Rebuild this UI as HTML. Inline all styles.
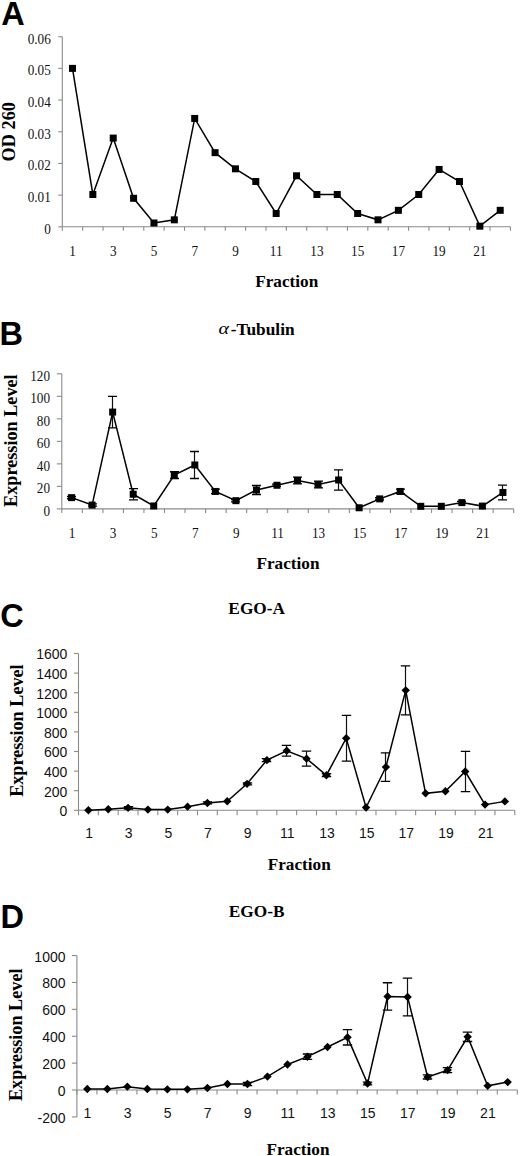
<!DOCTYPE html>
<html><head><meta charset="utf-8"><style>
html,body{margin:0;padding:0;background:#fff;overflow:hidden;}
svg{display:block;}
</style></head><body>
<svg width="520" height="1156" viewBox="0 0 520 1156">
<rect width="520" height="1156" fill="#fff"/>
<line x1="62.30" y1="36.70" x2="62.30" y2="226.80" stroke="#8a8a8a" stroke-width="1.1"/>
<line x1="58.30" y1="226.80" x2="62.30" y2="226.80" stroke="#8a8a8a" stroke-width="1.1"/>
<text transform="translate(50.80,233.80) scale(1,1.1)" text-anchor="end" font-family='"Liberation Serif", serif' font-size="13.2" fill="#111">0</text>
<line x1="58.30" y1="195.12" x2="62.30" y2="195.12" stroke="#8a8a8a" stroke-width="1.1"/>
<text transform="translate(50.80,202.12) scale(1,1.1)" text-anchor="end" font-family='"Liberation Serif", serif' font-size="13.2" fill="#111">0.01</text>
<line x1="58.30" y1="163.43" x2="62.30" y2="163.43" stroke="#8a8a8a" stroke-width="1.1"/>
<text transform="translate(50.80,170.43) scale(1,1.1)" text-anchor="end" font-family='"Liberation Serif", serif' font-size="13.2" fill="#111">0.02</text>
<line x1="58.30" y1="131.75" x2="62.30" y2="131.75" stroke="#8a8a8a" stroke-width="1.1"/>
<text transform="translate(50.80,138.75) scale(1,1.1)" text-anchor="end" font-family='"Liberation Serif", serif' font-size="13.2" fill="#111">0.03</text>
<line x1="58.30" y1="100.07" x2="62.30" y2="100.07" stroke="#8a8a8a" stroke-width="1.1"/>
<text transform="translate(50.80,107.07) scale(1,1.1)" text-anchor="end" font-family='"Liberation Serif", serif' font-size="13.2" fill="#111">0.04</text>
<line x1="58.30" y1="68.38" x2="62.30" y2="68.38" stroke="#8a8a8a" stroke-width="1.1"/>
<text transform="translate(50.80,75.38) scale(1,1.1)" text-anchor="end" font-family='"Liberation Serif", serif' font-size="13.2" fill="#111">0.05</text>
<line x1="58.30" y1="36.70" x2="62.30" y2="36.70" stroke="#8a8a8a" stroke-width="1.1"/>
<text transform="translate(50.80,43.70) scale(1,1.1)" text-anchor="end" font-family='"Liberation Serif", serif' font-size="13.2" fill="#111">0.06</text>
<line x1="62.30" y1="226.80" x2="510.40" y2="226.80" stroke="#8a8a8a" stroke-width="1.1"/>
<line x1="62.30" y1="226.80" x2="62.30" y2="230.80" stroke="#8a8a8a" stroke-width="1.1"/>
<line x1="82.67" y1="226.80" x2="82.67" y2="230.80" stroke="#8a8a8a" stroke-width="1.1"/>
<line x1="103.04" y1="226.80" x2="103.04" y2="230.80" stroke="#8a8a8a" stroke-width="1.1"/>
<line x1="123.40" y1="226.80" x2="123.40" y2="230.80" stroke="#8a8a8a" stroke-width="1.1"/>
<line x1="143.77" y1="226.80" x2="143.77" y2="230.80" stroke="#8a8a8a" stroke-width="1.1"/>
<line x1="164.14" y1="226.80" x2="164.14" y2="230.80" stroke="#8a8a8a" stroke-width="1.1"/>
<line x1="184.51" y1="226.80" x2="184.51" y2="230.80" stroke="#8a8a8a" stroke-width="1.1"/>
<line x1="204.88" y1="226.80" x2="204.88" y2="230.80" stroke="#8a8a8a" stroke-width="1.1"/>
<line x1="225.25" y1="226.80" x2="225.25" y2="230.80" stroke="#8a8a8a" stroke-width="1.1"/>
<line x1="245.61" y1="226.80" x2="245.61" y2="230.80" stroke="#8a8a8a" stroke-width="1.1"/>
<line x1="265.98" y1="226.80" x2="265.98" y2="230.80" stroke="#8a8a8a" stroke-width="1.1"/>
<line x1="286.35" y1="226.80" x2="286.35" y2="230.80" stroke="#8a8a8a" stroke-width="1.1"/>
<line x1="306.72" y1="226.80" x2="306.72" y2="230.80" stroke="#8a8a8a" stroke-width="1.1"/>
<line x1="327.09" y1="226.80" x2="327.09" y2="230.80" stroke="#8a8a8a" stroke-width="1.1"/>
<line x1="347.45" y1="226.80" x2="347.45" y2="230.80" stroke="#8a8a8a" stroke-width="1.1"/>
<line x1="367.82" y1="226.80" x2="367.82" y2="230.80" stroke="#8a8a8a" stroke-width="1.1"/>
<line x1="388.19" y1="226.80" x2="388.19" y2="230.80" stroke="#8a8a8a" stroke-width="1.1"/>
<line x1="408.56" y1="226.80" x2="408.56" y2="230.80" stroke="#8a8a8a" stroke-width="1.1"/>
<line x1="428.93" y1="226.80" x2="428.93" y2="230.80" stroke="#8a8a8a" stroke-width="1.1"/>
<line x1="449.30" y1="226.80" x2="449.30" y2="230.80" stroke="#8a8a8a" stroke-width="1.1"/>
<line x1="469.66" y1="226.80" x2="469.66" y2="230.80" stroke="#8a8a8a" stroke-width="1.1"/>
<line x1="490.03" y1="226.80" x2="490.03" y2="230.80" stroke="#8a8a8a" stroke-width="1.1"/>
<line x1="510.40" y1="226.80" x2="510.40" y2="230.80" stroke="#8a8a8a" stroke-width="1.1"/>
<text transform="translate(72.48,255.50) scale(1,1.1)" text-anchor="middle" font-family='"Liberation Serif", serif' font-size="13.2" fill="#111">1</text>
<text transform="translate(113.22,255.50) scale(1,1.1)" text-anchor="middle" font-family='"Liberation Serif", serif' font-size="13.2" fill="#111">3</text>
<text transform="translate(153.96,255.50) scale(1,1.1)" text-anchor="middle" font-family='"Liberation Serif", serif' font-size="13.2" fill="#111">5</text>
<text transform="translate(194.69,255.50) scale(1,1.1)" text-anchor="middle" font-family='"Liberation Serif", serif' font-size="13.2" fill="#111">7</text>
<text transform="translate(235.43,255.50) scale(1,1.1)" text-anchor="middle" font-family='"Liberation Serif", serif' font-size="13.2" fill="#111">9</text>
<text transform="translate(276.17,255.50) scale(1,1.1)" text-anchor="middle" font-family='"Liberation Serif", serif' font-size="13.2" fill="#111">11</text>
<text transform="translate(316.90,255.50) scale(1,1.1)" text-anchor="middle" font-family='"Liberation Serif", serif' font-size="13.2" fill="#111">13</text>
<text transform="translate(357.64,255.50) scale(1,1.1)" text-anchor="middle" font-family='"Liberation Serif", serif' font-size="13.2" fill="#111">15</text>
<text transform="translate(398.38,255.50) scale(1,1.1)" text-anchor="middle" font-family='"Liberation Serif", serif' font-size="13.2" fill="#111">17</text>
<text transform="translate(439.11,255.50) scale(1,1.1)" text-anchor="middle" font-family='"Liberation Serif", serif' font-size="13.2" fill="#111">19</text>
<text transform="translate(479.85,255.50) scale(1,1.1)" text-anchor="middle" font-family='"Liberation Serif", serif' font-size="13.2" fill="#111">21</text>
<polyline points="72.48,68.38 92.85,194.48 113.22,138.09 133.59,198.28 153.96,223.00 174.32,219.83 194.69,118.44 215.06,152.66 235.43,168.82 255.80,181.49 276.17,213.49 296.53,175.79 316.90,194.48 337.27,194.48 357.64,213.49 378.01,219.83 398.38,210.32 418.74,194.48 439.11,169.45 459.48,181.49 479.85,226.17 500.22,210.32" fill="none" stroke="#000" stroke-width="1.5" stroke-linejoin="miter"/>
<rect x="68.98" y="64.88" width="7" height="7" fill="#000"/>
<rect x="89.35" y="190.98" width="7" height="7" fill="#000"/>
<rect x="109.72" y="134.59" width="7" height="7" fill="#000"/>
<rect x="130.09" y="194.78" width="7" height="7" fill="#000"/>
<rect x="150.46" y="219.50" width="7" height="7" fill="#000"/>
<rect x="170.82" y="216.33" width="7" height="7" fill="#000"/>
<rect x="191.19" y="114.94" width="7" height="7" fill="#000"/>
<rect x="211.56" y="149.16" width="7" height="7" fill="#000"/>
<rect x="231.93" y="165.32" width="7" height="7" fill="#000"/>
<rect x="252.30" y="177.99" width="7" height="7" fill="#000"/>
<rect x="272.67" y="209.99" width="7" height="7" fill="#000"/>
<rect x="293.03" y="172.29" width="7" height="7" fill="#000"/>
<rect x="313.40" y="190.98" width="7" height="7" fill="#000"/>
<rect x="333.77" y="190.98" width="7" height="7" fill="#000"/>
<rect x="354.14" y="209.99" width="7" height="7" fill="#000"/>
<rect x="374.51" y="216.33" width="7" height="7" fill="#000"/>
<rect x="394.88" y="206.82" width="7" height="7" fill="#000"/>
<rect x="415.24" y="190.98" width="7" height="7" fill="#000"/>
<rect x="435.61" y="165.95" width="7" height="7" fill="#000"/>
<rect x="455.98" y="177.99" width="7" height="7" fill="#000"/>
<rect x="476.35" y="222.67" width="7" height="7" fill="#000"/>
<rect x="496.72" y="206.82" width="7" height="7" fill="#000"/>
<text transform="translate(14.90,131.75) rotate(-90)" text-anchor="middle" font-family='"Liberation Serif", serif' font-weight="bold" font-size="18.3" fill="#000">OD 260</text>
<text x="286.70" y="287.00" text-anchor="middle" font-family='"Liberation Serif", serif' font-weight="bold" font-size="17.2" fill="#000">Fraction</text>
<text x="1.20" y="24.50" font-family='"Liberation Sans", sans-serif' font-weight="bold" font-size="32.5" fill="#000">A</text>
<line x1="61.80" y1="373.80" x2="61.80" y2="508.90" stroke="#8a8a8a" stroke-width="1.1"/>
<line x1="56.80" y1="508.90" x2="61.80" y2="508.90" stroke="#8a8a8a" stroke-width="1.1"/>
<text transform="translate(50.00,515.60) scale(1,1.16)" text-anchor="end" font-family='"Liberation Serif", serif' font-size="13.2" fill="#111">0</text>
<line x1="56.80" y1="486.38" x2="61.80" y2="486.38" stroke="#8a8a8a" stroke-width="1.1"/>
<text transform="translate(50.00,493.08) scale(1,1.16)" text-anchor="end" font-family='"Liberation Serif", serif' font-size="13.2" fill="#111">20</text>
<line x1="56.80" y1="463.87" x2="61.80" y2="463.87" stroke="#8a8a8a" stroke-width="1.1"/>
<text transform="translate(50.00,470.57) scale(1,1.16)" text-anchor="end" font-family='"Liberation Serif", serif' font-size="13.2" fill="#111">40</text>
<line x1="56.80" y1="441.35" x2="61.80" y2="441.35" stroke="#8a8a8a" stroke-width="1.1"/>
<text transform="translate(50.00,448.05) scale(1,1.16)" text-anchor="end" font-family='"Liberation Serif", serif' font-size="13.2" fill="#111">60</text>
<line x1="56.80" y1="418.83" x2="61.80" y2="418.83" stroke="#8a8a8a" stroke-width="1.1"/>
<text transform="translate(50.00,425.53) scale(1,1.16)" text-anchor="end" font-family='"Liberation Serif", serif' font-size="13.2" fill="#111">80</text>
<line x1="56.80" y1="396.32" x2="61.80" y2="396.32" stroke="#8a8a8a" stroke-width="1.1"/>
<text transform="translate(50.00,403.02) scale(1,1.16)" text-anchor="end" font-family='"Liberation Serif", serif' font-size="13.2" fill="#111">100</text>
<line x1="56.80" y1="373.80" x2="61.80" y2="373.80" stroke="#8a8a8a" stroke-width="1.1"/>
<text transform="translate(50.00,380.50) scale(1,1.16)" text-anchor="end" font-family='"Liberation Serif", serif' font-size="13.2" fill="#111">120</text>
<line x1="61.80" y1="508.90" x2="513.70" y2="508.90" stroke="#8a8a8a" stroke-width="1.1"/>
<line x1="61.80" y1="508.90" x2="61.80" y2="512.90" stroke="#8a8a8a" stroke-width="1.1"/>
<line x1="82.34" y1="508.90" x2="82.34" y2="512.90" stroke="#8a8a8a" stroke-width="1.1"/>
<line x1="102.88" y1="508.90" x2="102.88" y2="512.90" stroke="#8a8a8a" stroke-width="1.1"/>
<line x1="123.42" y1="508.90" x2="123.42" y2="512.90" stroke="#8a8a8a" stroke-width="1.1"/>
<line x1="143.96" y1="508.90" x2="143.96" y2="512.90" stroke="#8a8a8a" stroke-width="1.1"/>
<line x1="164.50" y1="508.90" x2="164.50" y2="512.90" stroke="#8a8a8a" stroke-width="1.1"/>
<line x1="185.05" y1="508.90" x2="185.05" y2="512.90" stroke="#8a8a8a" stroke-width="1.1"/>
<line x1="205.59" y1="508.90" x2="205.59" y2="512.90" stroke="#8a8a8a" stroke-width="1.1"/>
<line x1="226.13" y1="508.90" x2="226.13" y2="512.90" stroke="#8a8a8a" stroke-width="1.1"/>
<line x1="246.67" y1="508.90" x2="246.67" y2="512.90" stroke="#8a8a8a" stroke-width="1.1"/>
<line x1="267.21" y1="508.90" x2="267.21" y2="512.90" stroke="#8a8a8a" stroke-width="1.1"/>
<line x1="287.75" y1="508.90" x2="287.75" y2="512.90" stroke="#8a8a8a" stroke-width="1.1"/>
<line x1="308.29" y1="508.90" x2="308.29" y2="512.90" stroke="#8a8a8a" stroke-width="1.1"/>
<line x1="328.83" y1="508.90" x2="328.83" y2="512.90" stroke="#8a8a8a" stroke-width="1.1"/>
<line x1="349.37" y1="508.90" x2="349.37" y2="512.90" stroke="#8a8a8a" stroke-width="1.1"/>
<line x1="369.91" y1="508.90" x2="369.91" y2="512.90" stroke="#8a8a8a" stroke-width="1.1"/>
<line x1="390.45" y1="508.90" x2="390.45" y2="512.90" stroke="#8a8a8a" stroke-width="1.1"/>
<line x1="411.00" y1="508.90" x2="411.00" y2="512.90" stroke="#8a8a8a" stroke-width="1.1"/>
<line x1="431.54" y1="508.90" x2="431.54" y2="512.90" stroke="#8a8a8a" stroke-width="1.1"/>
<line x1="452.08" y1="508.90" x2="452.08" y2="512.90" stroke="#8a8a8a" stroke-width="1.1"/>
<line x1="472.62" y1="508.90" x2="472.62" y2="512.90" stroke="#8a8a8a" stroke-width="1.1"/>
<line x1="493.16" y1="508.90" x2="493.16" y2="512.90" stroke="#8a8a8a" stroke-width="1.1"/>
<line x1="513.70" y1="508.90" x2="513.70" y2="512.90" stroke="#8a8a8a" stroke-width="1.1"/>
<text transform="translate(72.07,538.00) scale(1,1.16)" text-anchor="middle" font-family='"Liberation Serif", serif' font-size="13.2" fill="#111">1</text>
<text transform="translate(113.15,538.00) scale(1,1.16)" text-anchor="middle" font-family='"Liberation Serif", serif' font-size="13.2" fill="#111">3</text>
<text transform="translate(154.23,538.00) scale(1,1.16)" text-anchor="middle" font-family='"Liberation Serif", serif' font-size="13.2" fill="#111">5</text>
<text transform="translate(195.32,538.00) scale(1,1.16)" text-anchor="middle" font-family='"Liberation Serif", serif' font-size="13.2" fill="#111">7</text>
<text transform="translate(236.40,538.00) scale(1,1.16)" text-anchor="middle" font-family='"Liberation Serif", serif' font-size="13.2" fill="#111">9</text>
<text transform="translate(277.48,538.00) scale(1,1.16)" text-anchor="middle" font-family='"Liberation Serif", serif' font-size="13.2" fill="#111">11</text>
<text transform="translate(318.56,538.00) scale(1,1.16)" text-anchor="middle" font-family='"Liberation Serif", serif' font-size="13.2" fill="#111">13</text>
<text transform="translate(359.64,538.00) scale(1,1.16)" text-anchor="middle" font-family='"Liberation Serif", serif' font-size="13.2" fill="#111">15</text>
<text transform="translate(400.73,538.00) scale(1,1.16)" text-anchor="middle" font-family='"Liberation Serif", serif' font-size="13.2" fill="#111">17</text>
<text transform="translate(441.81,538.00) scale(1,1.16)" text-anchor="middle" font-family='"Liberation Serif", serif' font-size="13.2" fill="#111">19</text>
<text transform="translate(482.89,538.00) scale(1,1.16)" text-anchor="middle" font-family='"Liberation Serif", serif' font-size="13.2" fill="#111">21</text>
<path d="M71.50 496.52V498.77" stroke="#111" stroke-width="1.2" fill="none"/><path d="M67.00 496.52H76.00M67.00 498.77H76.00" stroke="#000" stroke-width="1.3" fill="none"/>
<path d="M92.50 503.95V506.20" stroke="#111" stroke-width="1.2" fill="none"/><path d="M88.00 503.95H97.00M88.00 506.20H97.00" stroke="#000" stroke-width="1.3" fill="none"/>
<path d="M112.50 396.32V427.84" stroke="#111" stroke-width="1.2" fill="none"/><path d="M108.00 396.32H117.00M108.00 427.84H117.00" stroke="#000" stroke-width="1.3" fill="none"/>
<path d="M133.50 488.63V499.89" stroke="#111" stroke-width="1.2" fill="none"/><path d="M129.00 488.63H138.00M129.00 499.89H138.00" stroke="#000" stroke-width="1.3" fill="none"/>
<path d="M174.50 471.75V478.50" stroke="#111" stroke-width="1.2" fill="none"/><path d="M170.00 471.75H179.00M170.00 478.50H179.00" stroke="#000" stroke-width="1.3" fill="none"/>
<path d="M194.50 451.48V478.50" stroke="#111" stroke-width="1.2" fill="none"/><path d="M190.00 451.48H199.00M190.00 478.50H199.00" stroke="#000" stroke-width="1.3" fill="none"/>
<path d="M215.50 489.20V493.70" stroke="#111" stroke-width="1.2" fill="none"/><path d="M211.00 489.20H220.00M211.00 493.70H220.00" stroke="#000" stroke-width="1.3" fill="none"/>
<path d="M235.50 499.56V501.81" stroke="#111" stroke-width="1.2" fill="none"/><path d="M231.00 499.56H240.00M231.00 501.81H240.00" stroke="#000" stroke-width="1.3" fill="none"/>
<path d="M256.50 485.48V494.49" stroke="#111" stroke-width="1.2" fill="none"/><path d="M252.00 485.48H261.00M252.00 494.49H261.00" stroke="#000" stroke-width="1.3" fill="none"/>
<path d="M276.50 484.13V486.38" stroke="#111" stroke-width="1.2" fill="none"/><path d="M272.00 484.13H281.00M272.00 486.38H281.00" stroke="#000" stroke-width="1.3" fill="none"/>
<path d="M297.50 477.04V483.79" stroke="#111" stroke-width="1.2" fill="none"/><path d="M293.00 477.04H302.00M293.00 483.79H302.00" stroke="#000" stroke-width="1.3" fill="none"/>
<path d="M318.50 481.20V487.96" stroke="#111" stroke-width="1.2" fill="none"/><path d="M314.00 481.20H323.00M314.00 487.96H323.00" stroke="#000" stroke-width="1.3" fill="none"/>
<path d="M338.50 469.83V490.10" stroke="#111" stroke-width="1.2" fill="none"/><path d="M334.00 469.83H343.00M334.00 490.10H343.00" stroke="#000" stroke-width="1.3" fill="none"/>
<path d="M379.50 497.75V500.01" stroke="#111" stroke-width="1.2" fill="none"/><path d="M375.00 497.75H384.00M375.00 500.01H384.00" stroke="#000" stroke-width="1.3" fill="none"/>
<path d="M400.50 489.20V493.70" stroke="#111" stroke-width="1.2" fill="none"/><path d="M396.00 489.20H405.00M396.00 493.70H405.00" stroke="#000" stroke-width="1.3" fill="none"/>
<path d="M461.50 501.47V503.72" stroke="#111" stroke-width="1.2" fill="none"/><path d="M457.00 501.47H466.00M457.00 503.72H466.00" stroke="#000" stroke-width="1.3" fill="none"/>
<path d="M502.50 485.14V499.78" stroke="#111" stroke-width="1.2" fill="none"/><path d="M498.00 485.14H507.00M498.00 499.78H507.00" stroke="#000" stroke-width="1.3" fill="none"/>
<polyline points="71.57,497.64 92.11,505.07 112.65,412.08 133.19,494.26 153.73,505.97 174.28,475.12 194.82,464.99 215.36,491.45 235.90,500.68 256.44,489.99 276.98,485.26 297.52,480.42 318.06,484.58 338.60,479.97 359.14,507.77 379.68,498.88 400.23,491.45 420.77,506.31 441.31,506.31 461.85,502.60 482.39,506.09 502.93,492.46" fill="none" stroke="#000" stroke-width="1.5" stroke-linejoin="miter"/>
<rect x="68.07" y="494.14" width="7" height="7" fill="#000"/>
<rect x="88.61" y="501.57" width="7" height="7" fill="#000"/>
<rect x="109.15" y="408.58" width="7" height="7" fill="#000"/>
<rect x="129.69" y="490.76" width="7" height="7" fill="#000"/>
<rect x="150.23" y="502.47" width="7" height="7" fill="#000"/>
<rect x="170.78" y="471.62" width="7" height="7" fill="#000"/>
<rect x="191.32" y="461.49" width="7" height="7" fill="#000"/>
<rect x="211.86" y="487.95" width="7" height="7" fill="#000"/>
<rect x="232.40" y="497.18" width="7" height="7" fill="#000"/>
<rect x="252.94" y="486.49" width="7" height="7" fill="#000"/>
<rect x="273.48" y="481.76" width="7" height="7" fill="#000"/>
<rect x="294.02" y="476.92" width="7" height="7" fill="#000"/>
<rect x="314.56" y="481.08" width="7" height="7" fill="#000"/>
<rect x="335.10" y="476.47" width="7" height="7" fill="#000"/>
<rect x="355.64" y="504.27" width="7" height="7" fill="#000"/>
<rect x="376.18" y="495.38" width="7" height="7" fill="#000"/>
<rect x="396.73" y="487.95" width="7" height="7" fill="#000"/>
<rect x="417.27" y="502.81" width="7" height="7" fill="#000"/>
<rect x="437.81" y="502.81" width="7" height="7" fill="#000"/>
<rect x="458.35" y="499.10" width="7" height="7" fill="#000"/>
<rect x="478.89" y="502.59" width="7" height="7" fill="#000"/>
<rect x="499.43" y="488.96" width="7" height="7" fill="#000"/>
<text transform="translate(17.20,440.65) rotate(-90)" text-anchor="middle" font-family='"Liberation Serif", serif' font-weight="bold" font-size="18.2" fill="#000">Expression Level</text>
<text x="288.00" y="569.30" text-anchor="middle" font-family='"Liberation Serif", serif' font-weight="bold" font-size="17.2" fill="#000">Fraction</text>
<text x="-0.60" y="345.20" font-family='"Liberation Sans", sans-serif' font-weight="bold" font-size="32.5" fill="#000">B</text>
<text transform="translate(218.4,333.6) scale(1.22,1)" font-family='"Liberation Serif", serif' font-style="italic" font-size="16.5" fill="#000">&#945;</text><text x="230.8" y="335" font-family='"Liberation Serif", serif' font-weight="bold" font-size="17.3" fill="#000">-Tubulin</text>
<line x1="78.50" y1="653.50" x2="78.50" y2="810.30" stroke="#8a8a8a" stroke-width="1.1"/>
<line x1="74.00" y1="810.30" x2="78.50" y2="810.30" stroke="#8a8a8a" stroke-width="1.1"/>
<text transform="translate(67.30,816.20) scale(1,1.1)" text-anchor="end" font-family='"Liberation Sans", sans-serif' font-size="14" fill="#111">0</text>
<line x1="74.00" y1="790.70" x2="78.50" y2="790.70" stroke="#8a8a8a" stroke-width="1.1"/>
<text transform="translate(67.30,796.60) scale(1,1.1)" text-anchor="end" font-family='"Liberation Sans", sans-serif' font-size="14" fill="#111">200</text>
<line x1="74.00" y1="771.10" x2="78.50" y2="771.10" stroke="#8a8a8a" stroke-width="1.1"/>
<text transform="translate(67.30,777.00) scale(1,1.1)" text-anchor="end" font-family='"Liberation Sans", sans-serif' font-size="14" fill="#111">400</text>
<line x1="74.00" y1="751.50" x2="78.50" y2="751.50" stroke="#8a8a8a" stroke-width="1.1"/>
<text transform="translate(67.30,757.40) scale(1,1.1)" text-anchor="end" font-family='"Liberation Sans", sans-serif' font-size="14" fill="#111">600</text>
<line x1="74.00" y1="731.90" x2="78.50" y2="731.90" stroke="#8a8a8a" stroke-width="1.1"/>
<text transform="translate(67.30,737.80) scale(1,1.1)" text-anchor="end" font-family='"Liberation Sans", sans-serif' font-size="14" fill="#111">800</text>
<line x1="74.00" y1="712.30" x2="78.50" y2="712.30" stroke="#8a8a8a" stroke-width="1.1"/>
<text transform="translate(67.30,718.20) scale(1,1.1)" text-anchor="end" font-family='"Liberation Sans", sans-serif' font-size="14" fill="#111">1000</text>
<line x1="74.00" y1="692.70" x2="78.50" y2="692.70" stroke="#8a8a8a" stroke-width="1.1"/>
<text transform="translate(67.30,698.60) scale(1,1.1)" text-anchor="end" font-family='"Liberation Sans", sans-serif' font-size="14" fill="#111">1200</text>
<line x1="74.00" y1="673.10" x2="78.50" y2="673.10" stroke="#8a8a8a" stroke-width="1.1"/>
<text transform="translate(67.30,679.00) scale(1,1.1)" text-anchor="end" font-family='"Liberation Sans", sans-serif' font-size="14" fill="#111">1400</text>
<line x1="74.00" y1="653.50" x2="78.50" y2="653.50" stroke="#8a8a8a" stroke-width="1.1"/>
<text transform="translate(67.30,659.40) scale(1,1.1)" text-anchor="end" font-family='"Liberation Sans", sans-serif' font-size="14" fill="#111">1600</text>
<line x1="78.50" y1="810.30" x2="514.80" y2="810.30" stroke="#8a8a8a" stroke-width="1.1"/>
<line x1="78.50" y1="810.30" x2="78.50" y2="815.30" stroke="#8a8a8a" stroke-width="1.1"/>
<line x1="98.33" y1="810.30" x2="98.33" y2="815.30" stroke="#8a8a8a" stroke-width="1.1"/>
<line x1="118.16" y1="810.30" x2="118.16" y2="815.30" stroke="#8a8a8a" stroke-width="1.1"/>
<line x1="138.00" y1="810.30" x2="138.00" y2="815.30" stroke="#8a8a8a" stroke-width="1.1"/>
<line x1="157.83" y1="810.30" x2="157.83" y2="815.30" stroke="#8a8a8a" stroke-width="1.1"/>
<line x1="177.66" y1="810.30" x2="177.66" y2="815.30" stroke="#8a8a8a" stroke-width="1.1"/>
<line x1="197.49" y1="810.30" x2="197.49" y2="815.30" stroke="#8a8a8a" stroke-width="1.1"/>
<line x1="217.32" y1="810.30" x2="217.32" y2="815.30" stroke="#8a8a8a" stroke-width="1.1"/>
<line x1="237.15" y1="810.30" x2="237.15" y2="815.30" stroke="#8a8a8a" stroke-width="1.1"/>
<line x1="256.99" y1="810.30" x2="256.99" y2="815.30" stroke="#8a8a8a" stroke-width="1.1"/>
<line x1="276.82" y1="810.30" x2="276.82" y2="815.30" stroke="#8a8a8a" stroke-width="1.1"/>
<line x1="296.65" y1="810.30" x2="296.65" y2="815.30" stroke="#8a8a8a" stroke-width="1.1"/>
<line x1="316.48" y1="810.30" x2="316.48" y2="815.30" stroke="#8a8a8a" stroke-width="1.1"/>
<line x1="336.31" y1="810.30" x2="336.31" y2="815.30" stroke="#8a8a8a" stroke-width="1.1"/>
<line x1="356.15" y1="810.30" x2="356.15" y2="815.30" stroke="#8a8a8a" stroke-width="1.1"/>
<line x1="375.98" y1="810.30" x2="375.98" y2="815.30" stroke="#8a8a8a" stroke-width="1.1"/>
<line x1="395.81" y1="810.30" x2="395.81" y2="815.30" stroke="#8a8a8a" stroke-width="1.1"/>
<line x1="415.64" y1="810.30" x2="415.64" y2="815.30" stroke="#8a8a8a" stroke-width="1.1"/>
<line x1="435.47" y1="810.30" x2="435.47" y2="815.30" stroke="#8a8a8a" stroke-width="1.1"/>
<line x1="455.30" y1="810.30" x2="455.30" y2="815.30" stroke="#8a8a8a" stroke-width="1.1"/>
<line x1="475.14" y1="810.30" x2="475.14" y2="815.30" stroke="#8a8a8a" stroke-width="1.1"/>
<line x1="494.97" y1="810.30" x2="494.97" y2="815.30" stroke="#8a8a8a" stroke-width="1.1"/>
<line x1="514.80" y1="810.30" x2="514.80" y2="815.30" stroke="#8a8a8a" stroke-width="1.1"/>
<text transform="translate(89.02,838.00) scale(1,1.1)" text-anchor="middle" font-family='"Liberation Sans", sans-serif' font-size="14" fill="#111">1</text>
<text transform="translate(128.68,838.00) scale(1,1.1)" text-anchor="middle" font-family='"Liberation Sans", sans-serif' font-size="14" fill="#111">3</text>
<text transform="translate(168.34,838.00) scale(1,1.1)" text-anchor="middle" font-family='"Liberation Sans", sans-serif' font-size="14" fill="#111">5</text>
<text transform="translate(208.01,838.00) scale(1,1.1)" text-anchor="middle" font-family='"Liberation Sans", sans-serif' font-size="14" fill="#111">7</text>
<text transform="translate(247.67,838.00) scale(1,1.1)" text-anchor="middle" font-family='"Liberation Sans", sans-serif' font-size="14" fill="#111">9</text>
<text transform="translate(287.33,838.00) scale(1,1.1)" text-anchor="middle" font-family='"Liberation Sans", sans-serif' font-size="14" fill="#111">11</text>
<text transform="translate(327.00,838.00) scale(1,1.1)" text-anchor="middle" font-family='"Liberation Sans", sans-serif' font-size="14" fill="#111">13</text>
<text transform="translate(366.66,838.00) scale(1,1.1)" text-anchor="middle" font-family='"Liberation Sans", sans-serif' font-size="14" fill="#111">15</text>
<text transform="translate(406.32,838.00) scale(1,1.1)" text-anchor="middle" font-family='"Liberation Sans", sans-serif' font-size="14" fill="#111">17</text>
<text transform="translate(445.99,838.00) scale(1,1.1)" text-anchor="middle" font-family='"Liberation Sans", sans-serif' font-size="14" fill="#111">19</text>
<text transform="translate(485.65,838.00) scale(1,1.1)" text-anchor="middle" font-family='"Liberation Sans", sans-serif' font-size="14" fill="#111">21</text>
<path d="M128.50 806.67V809.03" stroke="#111" stroke-width="1.2" fill="none"/><path d="M123.80 806.67H133.20M123.80 809.03H133.20" stroke="#000" stroke-width="1.3" fill="none"/>
<path d="M207.50 801.97V803.93" stroke="#111" stroke-width="1.2" fill="none"/><path d="M202.80 801.97H212.20M202.80 803.93H212.20" stroke="#000" stroke-width="1.3" fill="none"/>
<path d="M247.50 782.86V784.82" stroke="#111" stroke-width="1.2" fill="none"/><path d="M242.80 782.86H252.20M242.80 784.82H252.20" stroke="#000" stroke-width="1.3" fill="none"/>
<path d="M266.50 758.65V761.59" stroke="#111" stroke-width="1.2" fill="none"/><path d="M261.80 758.65H271.20M261.80 761.59H271.20" stroke="#000" stroke-width="1.3" fill="none"/>
<path d="M286.50 745.33V756.11" stroke="#111" stroke-width="1.2" fill="none"/><path d="M281.80 745.33H291.20M281.80 756.11H291.20" stroke="#000" stroke-width="1.3" fill="none"/>
<path d="M306.50 751.11V766.20" stroke="#111" stroke-width="1.2" fill="none"/><path d="M301.80 751.11H311.20M301.80 766.20H311.20" stroke="#000" stroke-width="1.3" fill="none"/>
<path d="M326.50 773.75V776.69" stroke="#111" stroke-width="1.2" fill="none"/><path d="M321.80 773.75H331.20M321.80 776.69H331.20" stroke="#000" stroke-width="1.3" fill="none"/>
<path d="M346.50 715.44V761.10" stroke="#111" stroke-width="1.2" fill="none"/><path d="M341.80 715.44H351.20M341.80 761.10H351.20" stroke="#000" stroke-width="1.3" fill="none"/>
<path d="M385.50 752.87V781.29" stroke="#111" stroke-width="1.2" fill="none"/><path d="M380.80 752.87H390.20M380.80 781.29H390.20" stroke="#000" stroke-width="1.3" fill="none"/>
<path d="M405.50 665.85V714.85" stroke="#111" stroke-width="1.2" fill="none"/><path d="M400.80 665.85H410.20M400.80 714.85H410.20" stroke="#000" stroke-width="1.3" fill="none"/>
<path d="M465.50 751.40V791.58" stroke="#111" stroke-width="1.2" fill="none"/><path d="M460.80 751.40H470.20M460.80 791.58H470.20" stroke="#000" stroke-width="1.3" fill="none"/>
<polyline points="88.42,810.30 108.25,809.32 128.08,807.85 147.91,809.61 167.74,809.61 187.57,806.67 207.41,802.95 227.24,801.19 247.07,783.84 266.90,760.12 286.73,750.72 306.57,758.65 326.40,775.22 346.23,738.27 366.06,807.46 385.89,767.08 405.72,690.35 425.56,793.35 445.39,791.19 465.22,771.49 485.05,804.62 504.88,801.38" fill="none" stroke="#000" stroke-width="1.5" stroke-linejoin="miter"/>
<path d="M88.42 806.10L92.62 810.30L88.42 814.50L84.22 810.30Z" fill="#000"/>
<path d="M108.25 805.12L112.45 809.32L108.25 813.52L104.05 809.32Z" fill="#000"/>
<path d="M128.08 803.65L132.28 807.85L128.08 812.05L123.88 807.85Z" fill="#000"/>
<path d="M147.91 805.41L152.11 809.61L147.91 813.81L143.71 809.61Z" fill="#000"/>
<path d="M167.74 805.41L171.94 809.61L167.74 813.81L163.54 809.61Z" fill="#000"/>
<path d="M187.57 802.47L191.77 806.67L187.57 810.87L183.38 806.67Z" fill="#000"/>
<path d="M207.41 798.75L211.61 802.95L207.41 807.15L203.21 802.95Z" fill="#000"/>
<path d="M227.24 796.99L231.44 801.19L227.24 805.39L223.04 801.19Z" fill="#000"/>
<path d="M247.07 779.64L251.27 783.84L247.07 788.04L242.87 783.84Z" fill="#000"/>
<path d="M266.90 755.92L271.10 760.12L266.90 764.32L262.70 760.12Z" fill="#000"/>
<path d="M286.73 746.52L290.93 750.72L286.73 754.92L282.53 750.72Z" fill="#000"/>
<path d="M306.57 754.45L310.77 758.65L306.57 762.85L302.37 758.65Z" fill="#000"/>
<path d="M326.40 771.02L330.60 775.22L326.40 779.42L322.20 775.22Z" fill="#000"/>
<path d="M346.23 734.07L350.43 738.27L346.23 742.47L342.03 738.27Z" fill="#000"/>
<path d="M366.06 803.26L370.26 807.46L366.06 811.66L361.86 807.46Z" fill="#000"/>
<path d="M385.89 762.88L390.09 767.08L385.89 771.28L381.69 767.08Z" fill="#000"/>
<path d="M405.72 686.15L409.92 690.35L405.72 694.55L401.52 690.35Z" fill="#000"/>
<path d="M425.56 789.15L429.76 793.35L425.56 797.55L421.36 793.35Z" fill="#000"/>
<path d="M445.39 786.99L449.59 791.19L445.39 795.39L441.19 791.19Z" fill="#000"/>
<path d="M465.22 767.29L469.42 771.49L465.22 775.69L461.02 771.49Z" fill="#000"/>
<path d="M485.05 800.42L489.25 804.62L485.05 808.82L480.85 804.62Z" fill="#000"/>
<path d="M504.88 797.18L509.08 801.38L504.88 805.58L500.68 801.38Z" fill="#000"/>
<text transform="translate(23.40,730.60) rotate(-90)" text-anchor="middle" font-family='"Liberation Serif", serif' font-weight="bold" font-size="18.2" fill="#000">Expression Level</text>
<text x="299.20" y="870.00" text-anchor="middle" font-family='"Liberation Serif", serif' font-weight="bold" font-size="17.2" fill="#000">Fraction</text>
<text x="0.20" y="627.00" font-family='"Liberation Sans", sans-serif' font-weight="bold" font-size="32.5" fill="#000">C</text>
<text x="256.7" y="614.1" text-anchor="middle" font-family='"Liberation Serif", serif' font-weight="bold" font-size="17.3" fill="#000">EGO-A</text>
<line x1="76.90" y1="955.60" x2="76.90" y2="1116.90" stroke="#8a8a8a" stroke-width="1.1"/>
<line x1="71.90" y1="1116.90" x2="76.90" y2="1116.90" stroke="#8a8a8a" stroke-width="1.1"/>
<text transform="translate(65.50,1122.80) scale(1,1.1)" text-anchor="end" font-family='"Liberation Sans", sans-serif' font-size="14" fill="#111">-200</text>
<line x1="71.90" y1="1090.02" x2="76.90" y2="1090.02" stroke="#8a8a8a" stroke-width="1.1"/>
<text transform="translate(65.50,1095.92) scale(1,1.1)" text-anchor="end" font-family='"Liberation Sans", sans-serif' font-size="14" fill="#111">0</text>
<line x1="71.90" y1="1063.13" x2="76.90" y2="1063.13" stroke="#8a8a8a" stroke-width="1.1"/>
<text transform="translate(65.50,1069.03) scale(1,1.1)" text-anchor="end" font-family='"Liberation Sans", sans-serif' font-size="14" fill="#111">200</text>
<line x1="71.90" y1="1036.25" x2="76.90" y2="1036.25" stroke="#8a8a8a" stroke-width="1.1"/>
<text transform="translate(65.50,1042.15) scale(1,1.1)" text-anchor="end" font-family='"Liberation Sans", sans-serif' font-size="14" fill="#111">400</text>
<line x1="71.90" y1="1009.37" x2="76.90" y2="1009.37" stroke="#8a8a8a" stroke-width="1.1"/>
<text transform="translate(65.50,1015.27) scale(1,1.1)" text-anchor="end" font-family='"Liberation Sans", sans-serif' font-size="14" fill="#111">600</text>
<line x1="71.90" y1="982.48" x2="76.90" y2="982.48" stroke="#8a8a8a" stroke-width="1.1"/>
<text transform="translate(65.50,988.38) scale(1,1.1)" text-anchor="end" font-family='"Liberation Sans", sans-serif' font-size="14" fill="#111">800</text>
<line x1="71.90" y1="955.60" x2="76.90" y2="955.60" stroke="#8a8a8a" stroke-width="1.1"/>
<text transform="translate(65.50,961.50) scale(1,1.1)" text-anchor="end" font-family='"Liberation Sans", sans-serif' font-size="14" fill="#111">1000</text>
<line x1="76.90" y1="1090.02" x2="517.30" y2="1090.02" stroke="#8a8a8a" stroke-width="1.1"/>
<line x1="76.90" y1="1090.02" x2="76.90" y2="1094.52" stroke="#8a8a8a" stroke-width="1.1"/>
<line x1="96.92" y1="1090.02" x2="96.92" y2="1094.52" stroke="#8a8a8a" stroke-width="1.1"/>
<line x1="116.94" y1="1090.02" x2="116.94" y2="1094.52" stroke="#8a8a8a" stroke-width="1.1"/>
<line x1="136.95" y1="1090.02" x2="136.95" y2="1094.52" stroke="#8a8a8a" stroke-width="1.1"/>
<line x1="156.97" y1="1090.02" x2="156.97" y2="1094.52" stroke="#8a8a8a" stroke-width="1.1"/>
<line x1="176.99" y1="1090.02" x2="176.99" y2="1094.52" stroke="#8a8a8a" stroke-width="1.1"/>
<line x1="197.01" y1="1090.02" x2="197.01" y2="1094.52" stroke="#8a8a8a" stroke-width="1.1"/>
<line x1="217.03" y1="1090.02" x2="217.03" y2="1094.52" stroke="#8a8a8a" stroke-width="1.1"/>
<line x1="237.05" y1="1090.02" x2="237.05" y2="1094.52" stroke="#8a8a8a" stroke-width="1.1"/>
<line x1="257.06" y1="1090.02" x2="257.06" y2="1094.52" stroke="#8a8a8a" stroke-width="1.1"/>
<line x1="277.08" y1="1090.02" x2="277.08" y2="1094.52" stroke="#8a8a8a" stroke-width="1.1"/>
<line x1="297.10" y1="1090.02" x2="297.10" y2="1094.52" stroke="#8a8a8a" stroke-width="1.1"/>
<line x1="317.12" y1="1090.02" x2="317.12" y2="1094.52" stroke="#8a8a8a" stroke-width="1.1"/>
<line x1="337.14" y1="1090.02" x2="337.14" y2="1094.52" stroke="#8a8a8a" stroke-width="1.1"/>
<line x1="357.15" y1="1090.02" x2="357.15" y2="1094.52" stroke="#8a8a8a" stroke-width="1.1"/>
<line x1="377.17" y1="1090.02" x2="377.17" y2="1094.52" stroke="#8a8a8a" stroke-width="1.1"/>
<line x1="397.19" y1="1090.02" x2="397.19" y2="1094.52" stroke="#8a8a8a" stroke-width="1.1"/>
<line x1="417.21" y1="1090.02" x2="417.21" y2="1094.52" stroke="#8a8a8a" stroke-width="1.1"/>
<line x1="437.23" y1="1090.02" x2="437.23" y2="1094.52" stroke="#8a8a8a" stroke-width="1.1"/>
<line x1="457.25" y1="1090.02" x2="457.25" y2="1094.52" stroke="#8a8a8a" stroke-width="1.1"/>
<line x1="477.26" y1="1090.02" x2="477.26" y2="1094.52" stroke="#8a8a8a" stroke-width="1.1"/>
<line x1="497.28" y1="1090.02" x2="497.28" y2="1094.52" stroke="#8a8a8a" stroke-width="1.1"/>
<line x1="517.30" y1="1090.02" x2="517.30" y2="1094.52" stroke="#8a8a8a" stroke-width="1.1"/>
<text transform="translate(87.51,1118.00) scale(1,1.1)" text-anchor="middle" font-family='"Liberation Sans", sans-serif' font-size="14" fill="#111">1</text>
<text transform="translate(127.55,1118.00) scale(1,1.1)" text-anchor="middle" font-family='"Liberation Sans", sans-serif' font-size="14" fill="#111">3</text>
<text transform="translate(167.58,1118.00) scale(1,1.1)" text-anchor="middle" font-family='"Liberation Sans", sans-serif' font-size="14" fill="#111">5</text>
<text transform="translate(207.62,1118.00) scale(1,1.1)" text-anchor="middle" font-family='"Liberation Sans", sans-serif' font-size="14" fill="#111">7</text>
<text transform="translate(247.65,1118.00) scale(1,1.1)" text-anchor="middle" font-family='"Liberation Sans", sans-serif' font-size="14" fill="#111">9</text>
<text transform="translate(287.69,1118.00) scale(1,1.1)" text-anchor="middle" font-family='"Liberation Sans", sans-serif' font-size="14" fill="#111">11</text>
<text transform="translate(327.73,1118.00) scale(1,1.1)" text-anchor="middle" font-family='"Liberation Sans", sans-serif' font-size="14" fill="#111">13</text>
<text transform="translate(367.76,1118.00) scale(1,1.1)" text-anchor="middle" font-family='"Liberation Sans", sans-serif' font-size="14" fill="#111">15</text>
<text transform="translate(407.80,1118.00) scale(1,1.1)" text-anchor="middle" font-family='"Liberation Sans", sans-serif' font-size="14" fill="#111">17</text>
<text transform="translate(447.84,1118.00) scale(1,1.1)" text-anchor="middle" font-family='"Liberation Sans", sans-serif' font-size="14" fill="#111">19</text>
<text transform="translate(487.87,1118.00) scale(1,1.1)" text-anchor="middle" font-family='"Liberation Sans", sans-serif' font-size="14" fill="#111">21</text>
<path d="M247.50 1082.35V1085.58" stroke="#111" stroke-width="1.2" fill="none"/><path d="M242.80 1082.35H252.20M242.80 1085.58H252.20" stroke="#000" stroke-width="1.3" fill="none"/>
<path d="M307.50 1053.99V1059.37" stroke="#111" stroke-width="1.2" fill="none"/><path d="M302.80 1053.99H312.20M302.80 1059.37H312.20" stroke="#000" stroke-width="1.3" fill="none"/>
<path d="M347.50 1029.66V1044.99" stroke="#111" stroke-width="1.2" fill="none"/><path d="M342.80 1029.66H352.20M342.80 1044.99H352.20" stroke="#000" stroke-width="1.3" fill="none"/>
<path d="M367.50 1082.22V1084.91" stroke="#111" stroke-width="1.2" fill="none"/><path d="M362.80 1082.22H372.20M362.80 1084.91H372.20" stroke="#000" stroke-width="1.3" fill="none"/>
<path d="M387.50 982.75V1010.17" stroke="#111" stroke-width="1.2" fill="none"/><path d="M382.80 982.75H392.20M382.80 1010.17H392.20" stroke="#000" stroke-width="1.3" fill="none"/>
<path d="M407.50 978.05V1015.95" stroke="#111" stroke-width="1.2" fill="none"/><path d="M402.80 978.05H412.20M402.80 1015.95H412.20" stroke="#000" stroke-width="1.3" fill="none"/>
<path d="M427.50 1074.96V1078.99" stroke="#111" stroke-width="1.2" fill="none"/><path d="M422.80 1074.96H432.20M422.80 1078.99H432.20" stroke="#000" stroke-width="1.3" fill="none"/>
<path d="M447.50 1067.70V1072.54" stroke="#111" stroke-width="1.2" fill="none"/><path d="M442.80 1067.70H452.20M442.80 1072.54H452.20" stroke="#000" stroke-width="1.3" fill="none"/>
<path d="M467.50 1032.08V1041.49" stroke="#111" stroke-width="1.2" fill="none"/><path d="M462.80 1032.08H472.20M462.80 1041.49H472.20" stroke="#000" stroke-width="1.3" fill="none"/>
<polyline points="87.31,1088.94 107.33,1088.94 127.35,1086.66 147.36,1088.94 167.38,1089.34 187.40,1089.34 207.42,1088.00 227.44,1083.97 247.45,1083.97 267.47,1076.58 287.49,1064.48 307.51,1056.68 327.53,1047.00 347.55,1037.33 367.56,1083.56 387.58,996.46 407.60,997.00 427.62,1076.98 447.64,1070.12 467.65,1036.79 487.67,1085.85 507.69,1082.09" fill="none" stroke="#000" stroke-width="1.5" stroke-linejoin="miter"/>
<path d="M87.31 1084.74L91.51 1088.94L87.31 1093.14L83.11 1088.94Z" fill="#000"/>
<path d="M107.33 1084.74L111.53 1088.94L107.33 1093.14L103.13 1088.94Z" fill="#000"/>
<path d="M127.35 1082.46L131.55 1086.66L127.35 1090.86L123.15 1086.66Z" fill="#000"/>
<path d="M147.36 1084.74L151.56 1088.94L147.36 1093.14L143.16 1088.94Z" fill="#000"/>
<path d="M167.38 1085.14L171.58 1089.34L167.38 1093.54L163.18 1089.34Z" fill="#000"/>
<path d="M187.40 1085.14L191.60 1089.34L187.40 1093.54L183.20 1089.34Z" fill="#000"/>
<path d="M207.42 1083.80L211.62 1088.00L207.42 1092.20L203.22 1088.00Z" fill="#000"/>
<path d="M227.44 1079.77L231.64 1083.97L227.44 1088.17L223.24 1083.97Z" fill="#000"/>
<path d="M247.45 1079.77L251.65 1083.97L247.45 1088.17L243.25 1083.97Z" fill="#000"/>
<path d="M267.47 1072.38L271.67 1076.58L267.47 1080.78L263.27 1076.58Z" fill="#000"/>
<path d="M287.49 1060.28L291.69 1064.48L287.49 1068.68L283.29 1064.48Z" fill="#000"/>
<path d="M307.51 1052.48L311.71 1056.68L307.51 1060.88L303.31 1056.68Z" fill="#000"/>
<path d="M327.53 1042.80L331.73 1047.00L327.53 1051.20L323.33 1047.00Z" fill="#000"/>
<path d="M347.55 1033.13L351.75 1037.33L347.55 1041.53L343.35 1037.33Z" fill="#000"/>
<path d="M367.56 1079.36L371.76 1083.56L367.56 1087.76L363.36 1083.56Z" fill="#000"/>
<path d="M387.58 992.26L391.78 996.46L387.58 1000.66L383.38 996.46Z" fill="#000"/>
<path d="M407.60 992.80L411.80 997.00L407.60 1001.20L403.40 997.00Z" fill="#000"/>
<path d="M427.62 1072.78L431.82 1076.98L427.62 1081.18L423.42 1076.98Z" fill="#000"/>
<path d="M447.64 1065.92L451.84 1070.12L447.64 1074.32L443.44 1070.12Z" fill="#000"/>
<path d="M467.65 1032.59L471.85 1036.79L467.65 1040.99L463.45 1036.79Z" fill="#000"/>
<path d="M487.67 1081.65L491.87 1085.85L487.67 1090.05L483.47 1085.85Z" fill="#000"/>
<path d="M507.69 1077.89L511.89 1082.09L507.69 1086.29L503.49 1082.09Z" fill="#000"/>
<text transform="translate(21.50,1034.75) rotate(-90)" text-anchor="middle" font-family='"Liberation Serif", serif' font-weight="bold" font-size="18.2" fill="#000">Expression Level</text>
<text x="298.00" y="1154.60" text-anchor="middle" font-family='"Liberation Serif", serif' font-weight="bold" font-size="17.2" fill="#000">Fraction</text>
<text x="0.60" y="928.20" font-family='"Liberation Sans", sans-serif' font-weight="bold" font-size="32.5" fill="#000">D</text>
<text x="256.7" y="916.9" text-anchor="middle" font-family='"Liberation Serif", serif' font-weight="bold" font-size="17.3" fill="#000">EGO-B</text>
</svg>
</body></html>
